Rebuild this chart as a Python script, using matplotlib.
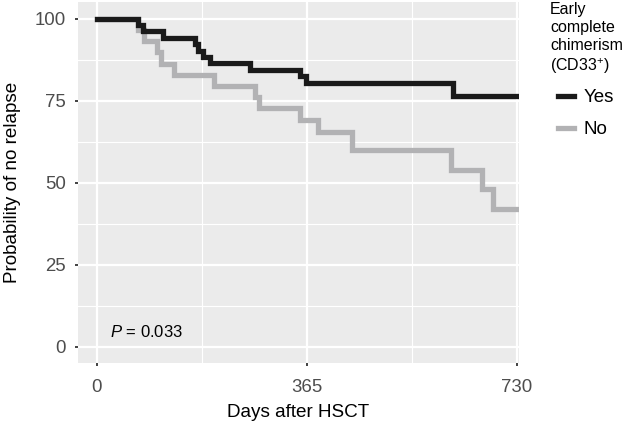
import matplotlib
matplotlib.use("Agg")
import matplotlib.pyplot as plt
from matplotlib.ticker import FixedLocator

plt.rcParams['font.family'] = ['Liberation Sans', 'DejaVu Sans']
plt.rcParams['mathtext.fontset'] = 'custom'
plt.rcParams['mathtext.rm'] = 'Liberation Sans'
plt.rcParams['mathtext.it'] = 'Liberation Sans:italic'

# Kaplan-Meier steps (days, % without relapse)
yes_days = [0, 72, 80, 115, 170, 176, 184, 196, 266, 353, 364, 618, 730]
yes_surv = [100, 98.0, 96.1, 94.1, 92.2, 90.2, 88.2, 86.3, 84.3, 82.4, 80.4, 76.3, 76.3]

no_days = [0, 72, 82, 104, 112, 134, 203, 275, 281, 353, 385, 443, 615, 670, 689, 730]
no_surv = [100, 96.5, 93.1, 89.7, 86.2, 82.8, 79.4, 76.0, 72.6, 69.1, 65.3, 59.9, 53.9, 48.0, 42.0, 42.0]

x_ticks = [0, 365, 730]
y_ticks = [0, 25, 50, 75, 100]
p_text = "$\\it{P}$ = 0.033"
legend_title = "Early\ncomplete\nchimerism\n(CD33$^{+}$)"

fig = plt.figure(figsize=(6.26, 4.25), dpi=100)
ax = fig.add_axes([0.1246, 0.1459, 0.829 - 0.1246, 0.995 - 0.1459])
ax.set_facecolor('#EBEBEB')

ax.plot(no_days, no_surv, drawstyle='steps-post', color='#B2B2B4', lw=3.8,
        label='No', solid_joinstyle='miter', zorder=3)
ax.plot(yes_days, yes_surv, drawstyle='steps-post', color='#1A1A1A', lw=3.8,
        label='Yes', solid_joinstyle='miter', zorder=4)

ax.set_xlim(-33, 733.5)
ax.set_ylim(-5, 105)
ax.set_xticks(x_ticks)
ax.set_yticks(y_ticks)
ax.xaxis.set_minor_locator(FixedLocator([182.5, 547.5]))
ax.yaxis.set_minor_locator(FixedLocator([12.5, 37.5, 62.5, 87.5]))
ax.grid(which='major', color='white', lw=1.6)
ax.grid(which='minor', color='white', lw=0.8)
ax.set_axisbelow(True)
for s in ax.spines.values():
    s.set_visible(False)
ax.tick_params(which='major', length=2.5, width=1.3, color='#333333',
               labelcolor='#4D4D4D', labelsize=13.4, pad=6)
ax.tick_params(axis='x', which='major', pad=9)
ax.tick_params(which='minor', length=0)

ax.set_xlabel('Days after HSCT', fontsize=13.6, labelpad=6)
ax.set_ylabel('Probability of no relapse', fontsize=13.6, labelpad=10)

ax.text(22, 4.5, p_text, fontsize=12, va='center', ha='left')

fig.text(550 / 626, 1 - 2 / 425, legend_title, ha='left', va='top',
         fontsize=11.5, linespacing=1.25)

handles, labels = ax.get_legend_handles_labels()
leg = ax.legend(handles[::-1], labels[::-1], loc='upper left',
                bbox_to_anchor=(558 / 626, 1 - 89 / 425), bbox_transform=fig.transFigure,
                frameon=False, fontsize=13.5, handlelength=0.85, handletextpad=0.5,
                labelspacing=0.8, borderpad=0, borderaxespad=0)

fig.savefig('out.png', dpi=100)
